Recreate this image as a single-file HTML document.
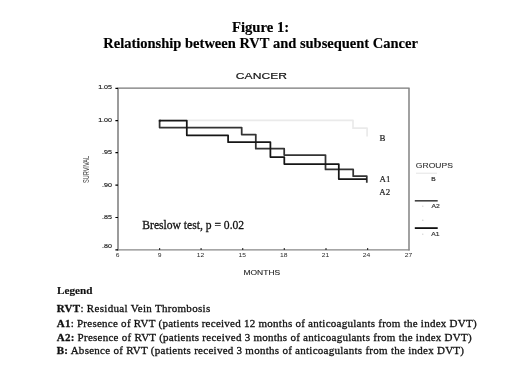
<!DOCTYPE html>
<html><head><meta charset="utf-8">
<style>
html,body{margin:0;padding:0;background:#fff;width:520px;height:390px;overflow:hidden}
svg{display:block;filter:grayscale(1) blur(0.3px)}
.serif{font-family:"Liberation Serif",serif}
.sans{font-family:"Liberation Sans",sans-serif}
</style></head>
<body>
<svg width="520" height="390" viewBox="0 0 520 390">
<rect width="520" height="390" fill="#fff"/>
<!-- Titles -->
<g class="serif" font-weight="bold" fill="#000" stroke="#000" stroke-width="0.15" text-anchor="middle">
<text x="260.6" y="31.6" font-size="14.7">Figure 1:</text>
<text x="260.6" y="48.3" font-size="14.5">Relationship between RVT and subsequent Cancer</text>
</g>
<!-- chart title -->
<text class="sans" x="0" y="0" font-size="8.3" fill="#111" stroke="#111" stroke-width="0.15" text-anchor="middle" transform="translate(261.4 78.8) scale(1.46 1)">CANCER</text>

<!-- plot box -->
<g fill="none">
<path d="M117.4 88.1 H409.6" stroke="#777" stroke-width="1.25"/>
<path d="M409 88.3 V250.4" stroke="#7a7a7a" stroke-width="1.4"/>
<path d="M118 88 V250.4" stroke="#7a7a7a" stroke-width="1.5"/>
<path d="M117.4 249.8 H409.6" stroke="#888" stroke-width="1.3"/>
</g>
<!-- y ticks -->
<g stroke="#000" stroke-width="1.2">
<path d="M115.4 88.3 h2.6 M115.4 120.6 h2.6 M115.4 152.7 h2.6 M115.4 185.1 h2.6 M115.4 217.5 h2.6 M115.4 249.8 h2.6"/>
<path d="M159.6 249.8 v-1.5 M201.1 249.8 v-1.5 M242.7 249.8 v-1.5 M284.3 249.8 v-1.5 M326 249.8 v-1.5 M367.6 249.8 v-1.5"/>
</g>
<g class="sans" font-size="5.7" fill="#1a1a1a" stroke="#1a1a1a" stroke-width="0.15" text-anchor="end">
<text transform="translate(112 89.3) scale(1.25 1)">1.05</text>
<text transform="translate(112 121.7) scale(1.25 1)">1.00</text>
<text transform="translate(112 154.3) scale(1.25 1)">.95</text>
<text transform="translate(112 186.7) scale(1.25 1)">.90</text>
<text transform="translate(112 219.1) scale(1.25 1)">.85</text>
<text transform="translate(112 247.7) scale(1.25 1)">.80</text>
</g>
<g class="sans" font-size="5" fill="#2a2a2a" text-anchor="middle">
<text transform="translate(117.5 256.6) scale(1.35 1)">6</text>
<text transform="translate(159.6 256.6) scale(1.35 1)">9</text>
<text transform="translate(200.5 256.6) scale(1.35 1)">12</text>
<text transform="translate(242.2 256.6) scale(1.35 1)">15</text>
<text transform="translate(283.8 256.6) scale(1.35 1)">18</text>
<text transform="translate(325.5 256.6) scale(1.35 1)">21</text>
<text transform="translate(366.6 256.6) scale(1.35 1)">24</text>
<text transform="translate(408.4 256.6) scale(1.35 1)">27</text>
</g>
<text class="sans" font-size="6.7" fill="#222" stroke="#222" stroke-width="0.08" text-anchor="middle" transform="translate(261.8 275) scale(1.27 1)">MONTHS</text>
<text class="sans" font-size="5.6" fill="#444" text-anchor="middle" transform="translate(88.6 169.5) scale(1.55 1) rotate(-90)">SURVIVAL</text>

<!-- curves -->
<g fill="none" stroke-linejoin="round" stroke-linecap="butt">
<path stroke="#eaeaea" stroke-width="1.7" d="M159.6 120.3 H353 V128.2 H367.1 V136.6"/>
<path stroke="#333" stroke-width="1.75" d="M161 120.5 H159.6 V127.6 H241.7 V134.6 H255.8 V148.7 H284.2 V155 H325.5 V169.4 H353.2 V176.2 H366.8 V182.8"/>
<path stroke="#161616" stroke-width="1.75" d="M158.8 120.5 H186.8 V135.3 H228.1 V142.2 H270.4 V157 H284.3 V164 H338.8 V179.1 H366.8"/>
</g>
<g class="serif" fill="#222" stroke="#222" stroke-width="0.2" font-size="8.9">
<text x="379.6" y="141.3">B</text>
<text x="379.5" y="181.8">A1</text>
<text x="379.3" y="194.6">A2</text>
</g>

<!-- groups legend -->
<text class="sans" font-size="6.7" fill="#333" stroke="#333" stroke-width="0.1" text-anchor="middle" transform="translate(434.4 168) scale(1.28 1)">GROUPS</text>
<path d="M416 173.2 H437" stroke="#e4e4e4" stroke-width="1"/>
<text class="sans" font-size="5.1" fill="#333" stroke="#333" stroke-width="0.2" text-anchor="middle" transform="translate(433.5 181.3) scale(1.3 1)">B</text>
<path d="M414.8 200.8 H437.7" stroke="#444" stroke-width="1.6"/>
<text class="sans" font-size="5" fill="#333" text-anchor="middle" stroke="#333" stroke-width="0.15" transform="translate(435.6 208.4) scale(1.35 1)">A2</text>
<path d="M414.8 228.1 H437.7" stroke="#111" stroke-width="1.8"/>
<text class="sans" font-size="5" fill="#333" text-anchor="middle" stroke="#333" stroke-width="0.15" transform="translate(435.4 235.7) scale(1.35 1)">A1</text>

<g fill="#c8c8c8"><circle cx="422.8" cy="206.2" r="0.6"/><circle cx="422.8" cy="220.2" r="0.7"/><circle cx="422.8" cy="234.2" r="0.6"/></g>
<!-- Breslow -->
<text class="serif" x="142.3" y="228.8" font-size="11.6" fill="#111" stroke="#111" stroke-width="0.28">Breslow test, p = 0.02</text>

<!-- Legend text -->
<g class="serif" fill="#111">
<text x="57" y="293.5" font-size="11.2" font-weight="bold" stroke="#111" stroke-width="0.15">Legend</text>
<g font-size="11" letter-spacing="0.235" stroke="#111" stroke-width="0.3">
<text x="56.7" y="312" letter-spacing="0.305"><tspan font-weight="bold">RVT</tspan>: Residual Vein Thrombosis</text>
<text x="56.7" y="326.6" letter-spacing="0.256"><tspan font-weight="bold">A1</tspan>: Presence of RVT (patients received 12 months of anticoagulants from the index DVT)</text>
<text x="56.7" y="340.6" letter-spacing="0.258"><tspan font-weight="bold">A2:</tspan> Presence of RVT (patients received 3 months of anticoagulants from the index DVT)</text>
<text x="56.7" y="354.4" letter-spacing="0.268"><tspan font-weight="bold">B:</tspan> Absence of RVT (patients received 3 months of anticoagulants from the index DVT)</text>
</g>
</g>
</svg>
</body></html>
